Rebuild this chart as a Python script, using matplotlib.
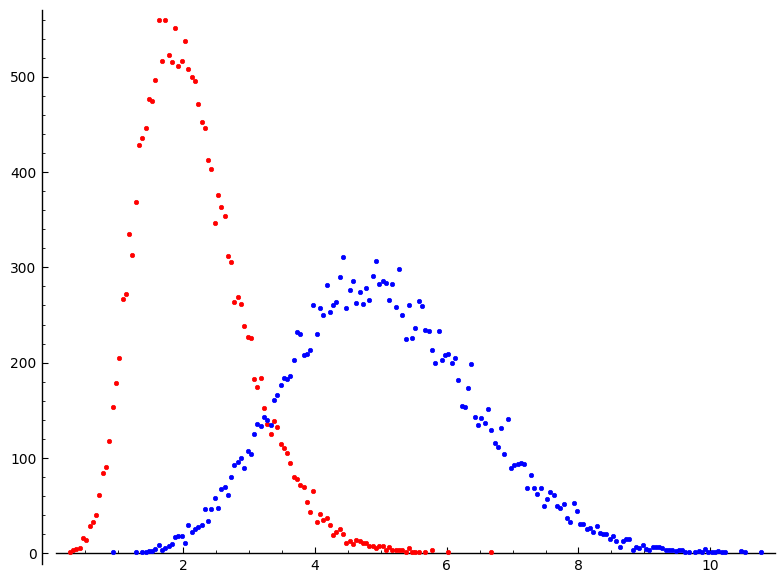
import matplotlib
matplotlib.use("Agg")
import matplotlib.pyplot as plt
from matplotlib.ticker import MultipleLocator

red_x = [0.275, 0.325, 0.375, 0.425, 0.475, 0.525, 0.575, 0.625, 0.675, 0.725,
         0.775, 0.825, 0.875, 0.925, 0.975, 1.025, 1.075, 1.125, 1.175, 1.225,
         1.275, 1.325, 1.375, 1.425, 1.475, 1.525, 1.575, 1.625, 1.675, 1.725,
         1.775, 1.825, 1.875, 1.925, 1.975, 2.025, 2.075, 2.125, 2.175, 2.225,
         2.275, 2.325, 2.375, 2.425, 2.475, 2.525, 2.575, 2.625, 2.675, 2.725,
         2.775, 2.825, 2.875, 2.925, 2.975, 3.025, 3.075, 3.125, 3.175, 3.225,
         3.275, 3.325, 3.375, 3.425, 3.475, 3.525, 3.575, 3.625, 3.675, 3.725,
         3.775, 3.825, 3.875, 3.925, 3.975, 4.025, 4.075, 4.125, 4.175, 4.225,
         4.275, 4.325, 4.375, 4.425, 4.475, 4.525, 4.575, 4.625, 4.675, 4.725,
         4.775, 4.825, 4.875, 4.925, 4.975, 5.025, 5.075, 5.125, 5.175, 5.225,
         5.275, 5.325, 5.375, 5.425, 5.475, 5.525, 5.575, 5.675, 5.775, 6.025,
         6.675]
red_y = [1, 3, 5, 6, 16, 14, 29, 33, 40, 61,
         84, 91, 118, 154, 179, 205, 267, 272, 335, 313,
         369, 428, 436, 446, 477, 475, 497, 559, 517, 559,
         523, 515, 551, 511, 517, 537, 508, 500, 496, 471,
         452, 446, 413, 403, 347, 376, 363, 354, 312, 306,
         264, 269, 262, 239, 227, 226, 183, 175, 184, 152,
         136, 125, 139, 133, 115, 111, 105, 95, 80, 78,
         72, 70, 54, 43, 65, 33, 41, 35, 37, 30,
         19, 22, 25, 20, 11, 13, 10, 14, 13, 11,
         11, 8, 8, 6, 8, 8, 4, 7, 4, 4,
         4, 4, 1, 6, 1, 1, 1, 1, 3, 1,
         1]

blue_x = [0.925, 1.275, 1.375, 1.425, 1.475, 1.525, 1.575, 1.625, 1.675, 1.725,
          1.775, 1.825, 1.875, 1.925, 1.975, 2.025, 2.075, 2.125, 2.175, 2.225,
          2.275, 2.325, 2.375, 2.425, 2.475, 2.525, 2.575, 2.625, 2.675, 2.725,
          2.775, 2.825, 2.875, 2.925, 2.975, 3.025, 3.075, 3.125, 3.175, 3.225,
          3.275, 3.325, 3.375, 3.425, 3.475, 3.525, 3.575, 3.625, 3.675, 3.725,
          3.775, 3.825, 3.875, 3.925, 3.975, 4.025, 4.075, 4.125, 4.175, 4.225,
          4.275, 4.325, 4.375, 4.425, 4.475, 4.525, 4.575, 4.625, 4.675, 4.725,
          4.775, 4.825, 4.875, 4.925, 4.975, 5.025, 5.075, 5.125, 5.175, 5.225,
          5.275, 5.325, 5.375, 5.425, 5.475, 5.525, 5.575, 5.625, 5.675, 5.725,
          5.775, 5.825, 5.875, 5.925, 5.975, 6.025, 6.075, 6.125, 6.175, 6.225,
          6.275, 6.325, 6.375, 6.425, 6.475, 6.525, 6.575, 6.625, 6.675, 6.725,
          6.775, 6.825, 6.875, 6.925, 6.975, 7.025, 7.075, 7.125, 7.175, 7.225,
          7.275, 7.325, 7.375, 7.425, 7.475, 7.525, 7.575, 7.625, 7.675, 7.725,
          7.775, 7.825, 7.875, 7.925, 7.975, 8.025, 8.075, 8.125, 8.175, 8.225,
          8.275, 8.325, 8.375, 8.425, 8.475, 8.525, 8.575, 8.625, 8.675, 8.725,
          8.775, 8.825, 8.875, 8.925, 8.975, 9.025, 9.075, 9.125, 9.175, 9.225,
          9.275, 9.325, 9.375, 9.425, 9.475, 9.525, 9.575, 9.625, 9.675, 9.775,
          9.825, 9.875, 9.925, 9.975, 10.025, 10.075, 10.125, 10.175, 10.225, 10.475,
          10.525, 10.775]
blue_y = [1, 1, 1, 1, 2, 2, 5, 9, 3, 6,
          8, 10, 17, 18, 18, 11, 30, 22, 25, 28,
          30, 47, 34, 46, 58, 48, 68, 70, 61, 80,
          93, 96, 100, 89, 107, 104, 125, 136, 134, 143,
          140, 135, 161, 166, 177, 184, 183, 186, 203, 232,
          230, 208, 209, 213, 260, 230, 257, 250, 282, 253,
          260, 264, 290, 311, 257, 276, 286, 263, 274, 262,
          278, 266, 291, 307, 283, 286, 284, 266, 283, 258,
          298, 250, 225, 261, 226, 236, 265, 259, 234, 233,
          213, 200, 233, 203, 208, 209, 200, 205, 182, 155,
          154, 173, 199, 143, 135, 142, 137, 151, 129, 116,
          112, 131, 104, 141, 90, 93, 94, 95, 94, 69,
          82, 69, 62, 69, 50, 57, 64, 61, 50, 48,
          52, 37, 33, 53, 44, 31, 31, 26, 27, 22,
          29, 21, 20, 20, 15, 18, 13, 7, 13, 15,
          15, 4, 7, 6, 9, 5, 4, 7, 7, 7,
          6, 3, 3, 3, 2, 3, 3, 1, 1, 1,
          2, 1, 5, 1, 1, 1, 2, 1, 1, 2,
          1, 1]

x_ticks = [2, 4, 6, 8, 10]
y_ticks = [0, 100, 200, 300, 400, 500]

fig = plt.figure(figsize=(7.83, 5.84), dpi=100)
ax = fig.add_axes([56 / 783, 20 / 584, 719 / 783, 554 / 584])

ax.scatter(red_x, red_y, s=10, c='#ff0000', edgecolors='#ff0000', linewidths=0.5, zorder=3)
ax.scatter(blue_x, blue_y, s=10, c='#0000ff', edgecolors='#0000ff', linewidths=0.5, zorder=3)

ax.set_xlim(0.065, 10.985)
ax.set_ylim(-11.2, 570)

ax.spines['top'].set_visible(False)
ax.spines['right'].set_visible(False)
ax.spines['left'].set_position(('outward', 10))
ax.spines['bottom'].set_position(('data', 0))
for s in ('left', 'bottom'):
    ax.spines[s].set_linewidth(1.0)

ax.set_xticks(x_ticks)
ax.set_yticks(y_ticks)
ax.xaxis.set_minor_locator(MultipleLocator(0.5))
ax.yaxis.set_minor_locator(MultipleLocator(20))
ax.tick_params(which='major', direction='in', length=4, width=0.8, labelsize=10, pad=4)
ax.tick_params(which='minor', direction='in', length=2, width=0.6)

fig.savefig('out.png', dpi=100)
